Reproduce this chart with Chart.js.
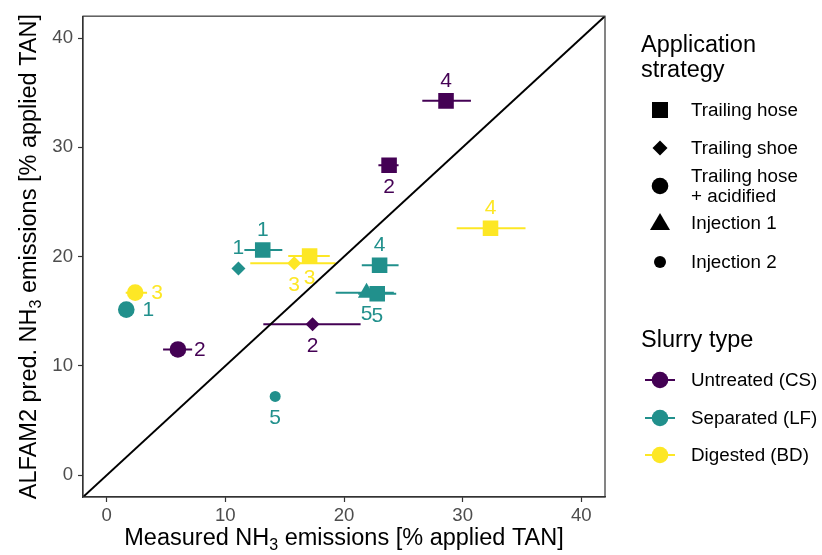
<!DOCTYPE html>
<html>
<head>
<meta charset="utf-8">
<title>ALFAM2 predicted vs measured NH3 emissions</title>
<script src="https://cdn.jsdelivr.net/npm/chart.js@4.4.1/dist/chart.umd.min.js"></script>
<style>
  body { margin: 0; background: #fff; font-family: "Liberation Sans", Arial, sans-serif; }
  #wrap { position: relative; width: 822px; height: 555px; overflow: hidden; }
  #chart { position: absolute; left: 0; top: 0; }
  #legendSymbols { position: absolute; left: 0; top: 0; }
  .lg-title { position: absolute; left: 641px; font-size: 23.5px; line-height: 25px; color: #000; white-space: nowrap; }
  .lg-text { position: absolute; left: 691px; font-size: 18.8px; line-height: 20px; color: #000; white-space: nowrap; transform: translateY(-50%); }
</style>
</head>
<body>
<div id="wrap">
  <canvas id="chart" width="822" height="555"></canvas>
  <svg id="legendSymbols" width="822" height="555"></svg>
</div>
<script>
// slurry types and application strategies
const slurryTypes = ['Untreated (CS)', 'Separated (LF)', 'Digested (BD)'];
const strategies = ['Trailing hose', 'Trailing shoe', 'Trailing hose + acidified', 'Injection 1', 'Injection 2'];

// one entry per point (index into slurryTypes / strategies)
const pointSlurry   = [0, 0, 0, 0, 1, 1, 1, 1, 1, 1, 1, 2, 2, 2, 2];
const pointStrategy = [0, 0, 1, 2, 0, 1, 0, 3, 0, 4, 2, 0, 1, 0, 2];
const pointLabels   = ['4', '2', '2', '2', '1', '1', '4', '5', '5', '5', '1', '3', '3', '4', '3'];

// measured emission (x) with its range, and ALFAM2 prediction (y)
const measured     = [28.6, 23.8, 17.35, 6.0, 13.15, 11.1, 23.0, 21.9, 22.8, 14.2, 1.65, 17.1, 15.8, 32.35, 2.4];
const measuredLow  = [26.6, 22.9, 13.2, 4.75, 11.6, null, 21.5, 19.3, 21.2, null, null, 15.3, 12.1, 29.5, 1.6];
const measuredHigh = [30.7, 24.6, 21.4, 7.2, 14.8, null, 24.6, 24.2, 24.4, null, null, 18.8, 19.3, 35.3, 3.4];
const predicted    = [34.25, 28.35, 13.8, 11.5, 20.6, 18.9, 19.2, 16.7, 16.6, 7.2, 15.15, 20.05, 19.4, 22.6, 16.7];

// axis
const axisRange = [-2, 42];
const tickValues = [0, 10, 20, 30, 40];

// ---- styles ----
const FONT = '"Liberation Sans", Arial, sans-serif';
const slurryColors = ['#440154', '#21908C', '#FDE725'];
const strategyStyle = [
  { style: 'rect', radius: 11 },
  { style: 'rectRot', radius: 7 },
  { style: 'circle', radius: 8.3 },
  { style: 'triangle', radius: 10 },
  { style: 'circle', radius: 5.5 }
];
const labelDir = ['up', 'down', 'down', 'right', 'up', 'up', 'up', 'down', 'down', 'down', 'right', 'down', 'down', 'up', 'right'];
const labelOffsets = { up: [0, -20], down: [0, 22], right: [22, 1] };

const datasets = [];

// horizontal error bars
measured.forEach((m, i) => {
  if (measuredLow[i] === null) return;
  datasets.push({
    type: 'line',
    data: [{ x: measuredLow[i], y: predicted[i] }, { x: measuredHigh[i], y: predicted[i] }],
    borderColor: slurryColors[pointSlurry[i]],
    borderWidth: 2,
    pointRadius: 0,
    order: 3
  });
});

// 1:1 line
datasets.push({
  type: 'line',
  data: axisRange.map(v => ({ x: v, y: v })),
  borderColor: '#000',
  borderWidth: 2,
  pointRadius: 0,
  order: 2
});

// points, one dataset per slurry type
slurryTypes.forEach((name, s) => {
  const idx = measured.map((_, i) => i).filter(i => pointSlurry[i] === s);
  datasets.push({
    type: 'scatter',
    label: name,
    data: idx.map(i => ({ x: measured[i], y: predicted[i] })),
    pointStyle: idx.map(i => strategyStyle[pointStrategy[i]].style),
    pointRadius: idx.map(i => strategyStyle[pointStrategy[i]].radius),
    backgroundColor: slurryColors[s],
    borderColor: slurryColors[s],
    borderWidth: 0,
    order: 1
  });
});

const panelBorder = {
  id: 'panelBorder',
  afterDraw(chart) {
    const { ctx, chartArea: a } = chart;
    ctx.save();
    ctx.strokeStyle = '#333';
    ctx.lineWidth = 1.2;
    ctx.strokeRect(a.left, a.top, a.right - a.left, a.bottom - a.top);
    ctx.restore();
  }
};

const pointLabelPlugin = {
  id: 'pointLabels',
  afterDatasetsDraw(chart) {
    const { ctx, scales: { x, y } } = chart;
    ctx.save();
    ctx.font = '21px ' + FONT;
    ctx.textAlign = 'center';
    ctx.textBaseline = 'middle';
    measured.forEach((m, i) => {
      const off = labelOffsets[labelDir[i]];
      ctx.fillStyle = slurryColors[pointSlurry[i]];
      ctx.fillText(pointLabels[i], x.getPixelForValue(m) + off[0], y.getPixelForValue(predicted[i]) + off[1]);
    });
    ctx.restore();
  }
};

// axis titles with a subscript 3
function drawSubText(ctx, parts, size) {
  const sub = Math.round(size * 0.7);
  let w = 0;
  parts.forEach(p => { ctx.font = (p.sub ? sub : size) + 'px ' + FONT; w += ctx.measureText(p.t).width; });
  let cx = -w / 2;
  parts.forEach(p => {
    ctx.font = (p.sub ? sub : size) + 'px ' + FONT;
    ctx.fillText(p.t, cx, p.sub ? size * 0.22 : 0);
    cx += ctx.measureText(p.t).width;
  });
}

const axisTitles = {
  id: 'axisTitles',
  afterDraw(chart) {
    const { ctx, chartArea: a } = chart;
    ctx.save();
    ctx.fillStyle = '#000';
    ctx.textBaseline = 'alphabetic';
    ctx.textAlign = 'left';
    ctx.translate((a.left + a.right) / 2, 545);
    drawSubText(ctx, [{ t: 'Measured NH' }, { t: '3', sub: true }, { t: ' emissions [% applied TAN]' }], 23.5);
    ctx.restore();
    ctx.save();
    ctx.fillStyle = '#000';
    ctx.textBaseline = 'alphabetic';
    ctx.textAlign = 'left';
    ctx.translate(35.5, (a.top + a.bottom) / 2);
    ctx.rotate(-Math.PI / 2);
    drawSubText(ctx, [{ t: 'ALFAM2 pred. NH' }, { t: '3', sub: true }, { t: ' emissions [% applied TAN]' }], 23.5);
    ctx.restore();
  }
};

const axisCommon = {
  type: 'linear',
  min: axisRange[0],
  max: axisRange[1],
  afterBuildTicks: s => { s.ticks = tickValues.map(v => ({ value: v })); },
  grid: { drawOnChartArea: false, drawTicks: true, tickLength: 5, tickWidth: 1.2, tickColor: '#333' },
  border: { display: true, color: '#333', width: 1.2 },
  title: { display: false }
};

new Chart(document.getElementById('chart'), {
  data: { datasets },
  options: {
    responsive: false,
    animation: false,
    devicePixelRatio: 1,
    layout: { padding: { top: 8, right: 217, left: 0, bottom: 0 } },
    plugins: { legend: { display: false }, tooltip: { enabled: false } },
    scales: {
      x: Object.assign({}, axisCommon, {
        afterFit: s => { s.height = 58; },
        ticks: { color: '#4d4d4d', font: { family: FONT, size: 18.6 }, padding: 3, maxRotation: 0 }
      }),
      y: Object.assign({}, axisCommon, {
        afterFit: s => { s.width = 83; },
        ticks: { color: '#4d4d4d', font: { family: FONT, size: 18.6 }, padding: 5 }
      })
    }
  },
  plugins: [panelBorder, pointLabelPlugin, axisTitles]
});

// ---- legend (HTML text + SVG symbols) ----
const wrap = document.getElementById('wrap');
const svg = document.getElementById('legendSymbols');
const NS = 'http://www.w3.org/2000/svg';
const strategyRowY = [110, 148, 186, 223, 262];
const slurryRowY = [380, 418, 455];
const symX = 660;

function addTitle(html, top) {
  const d = document.createElement('div');
  d.className = 'lg-title';
  d.style.top = top + 'px';
  d.innerHTML = html;
  wrap.appendChild(d);
}
function addText(text, cy) {
  const d = document.createElement('div');
  d.className = 'lg-text';
  d.style.top = cy + 'px';
  d.innerHTML = text.replace(' + ', '<br>+ ');
  wrap.appendChild(d);
}
function addShape(tag, attrs) {
  const el = document.createElementNS(NS, tag);
  Object.keys(attrs).forEach(k => el.setAttribute(k, attrs[k]));
  svg.appendChild(el);
}

addTitle('Application<br>strategy', 32);
strategies.forEach((name, i) => {
  const cy = strategyRowY[i];
  addText(name, cy);
  if (i === 0) addShape('rect', { x: symX - 8, y: cy - 8, width: 16, height: 16, fill: '#000' });
  if (i === 1) addShape('polygon', { points: `${symX},${cy - 7.5} ${symX + 7.5},${cy} ${symX},${cy + 7.5} ${symX - 7.5},${cy}`, fill: '#000' });
  if (i === 2) addShape('circle', { cx: symX, cy: cy, r: 8.3, fill: '#000' });
  if (i === 3) addShape('polygon', { points: `${symX},${cy - 10} ${symX + 10},${cy + 7} ${symX - 10},${cy + 7}`, fill: '#000' });
  if (i === 4) addShape('circle', { cx: symX, cy: cy, r: 6, fill: '#000' });
});

addTitle('Slurry type', 327);
slurryTypes.forEach((name, i) => {
  const cy = slurryRowY[i];
  addText(name, cy);
  addShape('line', { x1: symX - 15, y1: cy, x2: symX + 15, y2: cy, stroke: slurryColors[i], 'stroke-width': 2 });
  addShape('circle', { cx: symX, cy: cy, r: 8.3, fill: slurryColors[i] });
});
</script>
</body>
</html>
